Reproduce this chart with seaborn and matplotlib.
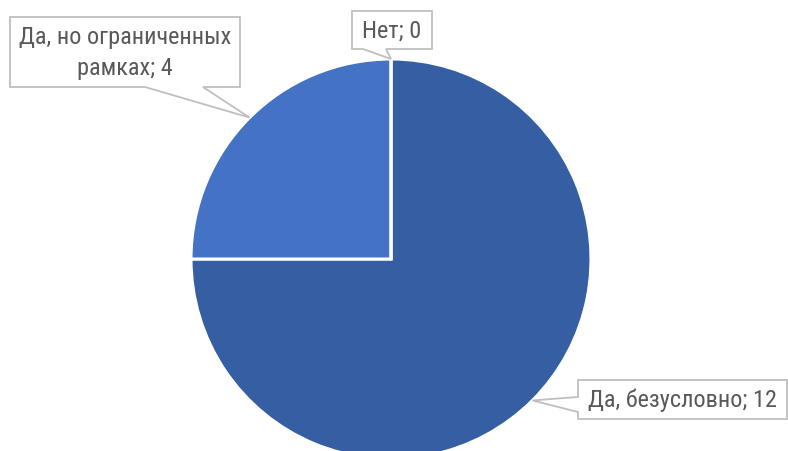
import numpy as np
import matplotlib
matplotlib.use("Agg")
import matplotlib.pyplot as plt
from matplotlib.patches import Polygon
from matplotlib import font_manager as fm
import seaborn as sns

# ---- data ----
categories = ["Да, безусловно", "Да, но ограниченных\nрамках", "Нет"]
values = [12, 4, 0]
colors = ["#355EA3", "#4472C4", "#A5A5A5"]

sns.set_theme(style="white")
available = {f.name for f in fm.fontManager.ttflist}
prefs = ["Roboto Condensed", "Open Sans Condensed", "Liberation Sans Narrow", "Liberation Sans"]
narrow = [p for p in prefs if p in available]
is_narrow = bool(narrow) and narrow[0] != "Liberation Sans"
plt.rcParams["font.family"] = narrow[:1] + ["Liberation Sans", "DejaVu Sans"]
fsize = 17.5 if is_narrow else 16

W, H = 788, 452
fig = plt.figure(figsize=(W / 100, H / 100), dpi=100)
ax = fig.add_axes([0, 0, 1, 1])

cx, cy_px, R = 391, 260, 200
cy = H - cy_px

wedges, _ = ax.pie(values, colors=colors, startangle=90, counterclock=False,
                   radius=R, center=(cx, cy),
                   wedgeprops=dict(edgecolor="white", linewidth=2.2))
ax.set_xlim(0, W)
ax.set_ylim(0, H)
ax.set_aspect("equal", adjustable="box")
ax.axis("off")

# label layout (pixel coords, y down): box x0, x1, y0, y1, pointer side/base
layouts = [
    dict(box=(578, 787, 381, 420), side="left", base=(398, 413)),
    dict(box=(10, 240, 18, 88), side="bottom", base=(145, 203)),
    dict(box=(352, 432, 12, 50), side="bottom", base=(363, 386)),
]

for w, cat, val, lay in zip(wedges, categories, values, layouts):
    mid = np.deg2rad((w.theta1 + w.theta2) / 2)
    tx, ty = cx + R * np.cos(mid), cy + R * np.sin(mid)
    x0, x1, y0p, y1p = lay["box"]
    y0, y1 = H - y0p, H - y1p  # top, bottom in data
    if lay["side"] == "bottom":
        b0, b1 = lay["base"]
        pts = [(x0, y0), (x1, y0), (x1, y1), (b1, y1), (tx, ty), (b0, y1), (x0, y1)]
    else:
        b0, b1 = H - lay["base"][0], H - lay["base"][1]
        pts = [(x0, y0), (x1, y0), (x1, y1), (x0, y1), (x0, b1), (tx, ty), (x0, b0)]
    ax.add_patch(Polygon(pts, closed=True, facecolor="white", edgecolor="#BFBFBF",
                         linewidth=1.3, zorder=5, clip_on=False))
    ax.text((x0 + x1) / 2, (y0 + y1) / 2, f"{cat}; {val}", ha="center", va="center",
            fontsize=fsize, color="#595959", zorder=6, linespacing=1.4)

fig.savefig("out.png", dpi=100)
